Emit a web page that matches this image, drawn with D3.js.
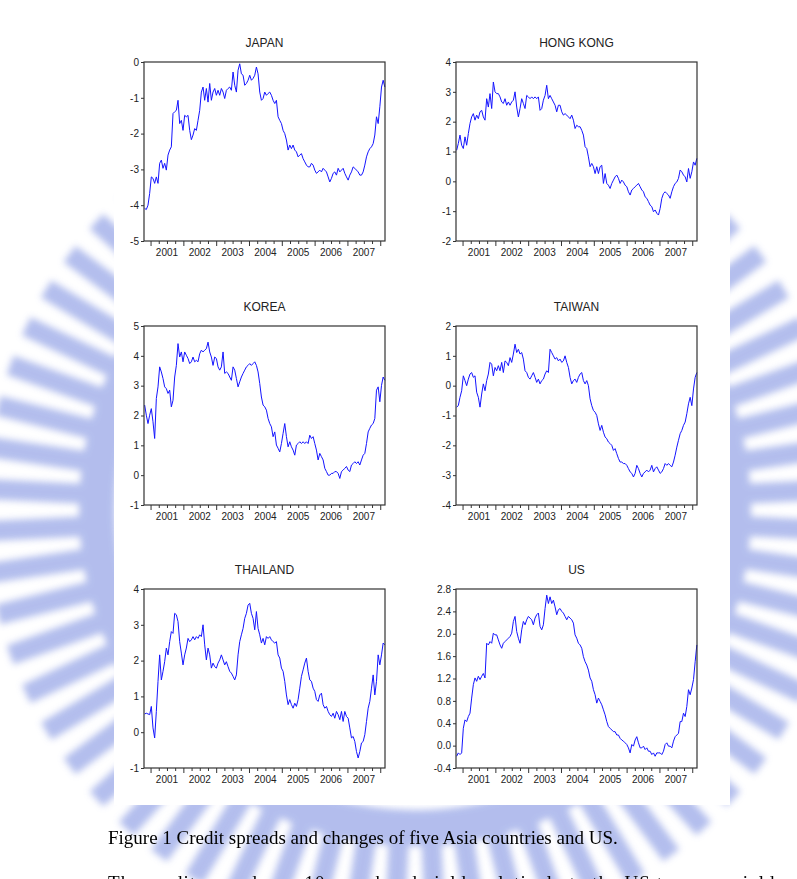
<!DOCTYPE html>
<html>
<head>
<meta charset="utf-8">
<script src="https://cdn.jsdelivr.net/npm/d3@7"></script>
<style>
  body { margin: 0; background: #fff; }
  svg { display: block; }
  .axis text { font-family: "Liberation Sans", Arial, sans-serif; font-size: 10px; fill: #222; }
  .axis line { stroke: #333; }
  .title { font-family: "Liberation Sans", Arial, sans-serif; font-size: 12px; fill: #222; }
  .caption { font-family: "Liberation Serif", "Times New Roman", serif; font-size: 19px; fill: #000; }
</style>
</head>
<body>
<svg id="fig" width="797" height="879"></svg>
<script>
// --- Data (roughly every 2.5 weeks) ---
const START = 2000.82, END = 2008.14;
const years = [2001, 2002, 2003, 2004, 2005, 2006, 2007];

const japan = [-4.09,-4.12,-4.00,-3.67,-3.21,-3.25,-3.39,-3.21,-3.39,-2.83,-2.74,-2.97,-2.83,-3.02,-2.60,-2.46,-2.37,-1.44,-1.39,-1.35,-1.07,-1.72,-1.63,-1.91,-1.49,-1.53,-1.49,-1.91,-2.17,-2.04,-1.86,-1.91,-1.63,-1.35,-0.84,-0.70,-1.07,-0.74,-1.12,-0.60,-1.07,-0.84,-0.74,-0.93,-0.79,-0.93,-0.74,-0.84,-1.02,-0.79,-0.74,-0.70,-0.79,-0.28,-0.65,-0.84,-0.23,-0.05,-0.33,-0.37,-0.65,-0.60,-0.51,-0.37,-0.51,-0.46,-0.37,-0.14,-0.33,-0.84,-1.07,-1.02,-0.84,-0.93,-0.88,-0.84,-0.93,-1.07,-1.16,-1.07,-1.53,-1.63,-1.72,-1.91,-2.00,-2.18,-2.46,-2.32,-2.42,-2.32,-2.46,-2.51,-2.65,-2.60,-2.56,-2.70,-2.79,-2.88,-2.93,-2.93,-2.83,-2.88,-3.02,-3.11,-3.07,-3.02,-3.07,-2.97,-3.02,-3.07,-3.21,-3.35,-3.25,-3.11,-3.07,-3.16,-2.97,-3.07,-3.02,-2.97,-3.11,-3.21,-3.30,-3.16,-3.07,-2.93,-2.97,-3.02,-3.07,-3.16,-3.16,-3.07,-2.88,-2.65,-2.51,-2.42,-2.37,-2.28,-2.04,-1.53,-1.72,-1.25,-0.70,-0.51,-0.70];

const hongKong = [1.04,1.27,1.55,1.21,1.10,1.49,1.21,1.60,1.94,2.16,2.27,2.05,2.22,2.10,2.33,2.38,2.16,2.05,2.77,2.49,2.94,2.44,3.33,3.00,2.94,2.94,2.83,2.66,2.61,2.77,2.55,2.66,2.55,2.66,2.72,3.00,2.49,2.16,2.44,2.77,2.61,2.44,2.88,2.83,2.77,2.83,2.77,2.83,2.77,2.83,2.38,2.44,2.72,2.88,3.22,2.77,2.88,2.77,2.66,2.55,2.33,2.55,2.55,2.33,2.22,2.27,2.22,2.16,2.10,2.22,2.05,1.77,1.88,1.83,1.83,1.71,1.55,1.16,1.10,0.82,0.49,0.60,0.49,0.26,0.49,0.26,0.49,0.54,-0.07,0.26,-0.07,-0.13,-0.24,-0.07,0.04,0.15,0.21,0.10,-0.07,0.04,-0.02,-0.13,-0.18,-0.35,-0.46,-0.29,-0.24,-0.18,-0.13,-0.07,-0.18,-0.29,-0.35,-0.52,-0.57,-0.68,-0.80,-0.85,-1.02,-0.96,-1.07,-1.13,-0.91,-0.57,-0.41,-0.35,-0.41,-0.46,-0.57,-0.35,-0.18,-0.07,-0.02,0.10,0.38,0.32,0.21,0.15,-0.02,0.43,0.10,0.32,0.65,0.54,0.77];

const korea = [2.35,2.01,1.73,2.01,2.23,1.79,1.23,2.57,2.96,3.63,3.46,3.24,2.96,2.90,2.74,2.85,2.29,2.51,3.29,3.68,4.41,3.96,4.13,3.80,4.13,4.02,3.91,3.74,3.80,3.96,3.80,3.85,3.80,4.07,4.19,4.13,4.19,4.24,4.46,4.13,3.96,3.68,3.96,3.91,3.63,3.52,3.63,4.13,3.41,3.46,3.41,3.29,3.18,3.63,3.52,3.24,2.96,3.13,3.29,3.41,3.52,3.63,3.68,3.74,3.68,3.74,3.80,3.68,3.46,3.07,2.62,2.35,2.29,2.18,1.90,1.73,1.62,1.29,1.45,1.01,0.90,0.78,1.06,1.40,1.73,1.29,0.95,1.12,0.95,0.84,0.67,1.01,1.06,1.12,1.06,1.12,1.06,1.12,1.06,1.34,1.23,1.29,1.06,0.84,0.51,0.73,0.62,0.51,0.23,0.12,0.00,0.00,0.06,0.06,0.12,0.12,0.06,-0.11,0.12,0.17,0.23,0.29,0.17,0.12,0.34,0.39,0.45,0.39,0.45,0.34,0.51,0.67,0.73,1.06,1.45,1.57,1.68,1.73,1.90,2.85,2.96,2.46,3.01,3.29,3.18];

const taiwan = [-0.72,-0.67,-0.39,-0.17,0.33,0.17,0.00,0.22,0.39,0.44,0.28,0.33,-0.22,-0.39,-0.72,-0.28,0.06,-0.17,0.17,0.39,0.78,0.72,0.33,0.61,0.50,0.67,0.50,0.78,0.44,0.83,0.78,0.67,0.94,0.78,1.06,1.39,1.11,1.22,1.06,1.11,0.89,0.50,0.44,0.28,0.22,0.33,0.44,0.28,0.11,0.22,0.06,0.17,0.22,0.39,0.50,0.44,1.22,1.11,1.00,0.89,0.94,0.83,0.89,0.78,0.83,1.00,0.78,0.61,0.28,0.06,0.17,0.22,0.11,0.28,0.39,0.44,0.17,0.06,0.17,0.00,-0.44,-0.67,-0.83,-0.89,-1.00,-1.28,-1.50,-1.33,-1.56,-1.72,-1.78,-1.89,-1.94,-2.00,-2.17,-2.11,-2.28,-2.44,-2.56,-2.56,-2.61,-2.61,-2.67,-2.78,-2.89,-2.94,-3.06,-2.94,-2.67,-2.78,-2.94,-3.06,-2.94,-2.89,-2.83,-2.89,-2.83,-2.67,-2.89,-2.78,-2.72,-2.83,-2.94,-2.89,-2.78,-2.61,-2.67,-2.61,-2.67,-2.72,-2.56,-2.33,-2.06,-1.83,-1.61,-1.50,-1.33,-1.22,-0.94,-0.61,-0.39,-0.67,-0.11,0.28,0.44];

const thailand = [0.51,0.53,0.51,0.49,0.72,0.12,-0.16,0.58,1.42,2.16,1.46,1.70,1.97,2.35,2.16,2.53,2.81,2.76,3.32,3.28,3.09,2.53,2.21,1.88,2.16,2.35,2.62,2.53,2.58,2.67,2.58,2.67,2.62,2.72,2.67,3.00,2.44,2.02,2.35,2.16,1.79,1.93,1.83,1.79,1.93,2.02,2.16,2.02,1.88,1.97,1.83,1.70,1.65,1.56,1.46,1.60,2.16,2.53,2.72,2.90,3.18,3.32,3.55,3.60,3.32,3.18,2.86,3.37,2.90,2.72,2.49,2.62,2.44,2.67,2.62,2.67,2.58,2.53,2.49,2.53,2.16,2.07,1.79,1.70,1.42,1.04,0.77,0.91,0.77,0.67,0.81,0.72,0.91,1.23,1.56,1.74,1.93,2.07,1.70,1.46,1.42,1.23,1.14,0.91,0.86,1.04,1.09,0.77,0.67,0.72,0.58,0.49,0.44,0.53,0.39,0.58,0.49,0.35,0.58,0.30,0.58,0.44,0.39,0.12,-0.16,-0.12,-0.26,-0.54,-0.72,-0.54,-0.30,-0.26,-0.07,0.30,0.67,0.86,1.23,1.60,1.04,1.42,2.16,1.88,2.16,2.49,2.44];

const us = [-0.19,-0.13,-0.16,-0.13,0.31,0.46,0.43,0.52,0.58,0.85,1.09,1.21,1.15,1.24,1.18,1.24,1.29,1.21,1.83,1.80,1.86,1.83,2.01,1.98,1.98,1.89,1.80,1.74,1.83,1.86,1.89,1.92,1.95,2.01,2.22,2.31,2.04,1.92,1.83,2.07,2.22,2.16,2.25,2.31,2.28,2.25,2.16,2.28,2.34,2.37,2.13,2.07,2.16,2.45,2.69,2.54,2.66,2.54,2.60,2.48,2.34,2.43,2.45,2.40,2.37,2.31,2.25,2.31,2.28,2.25,2.19,1.98,1.92,1.83,1.80,1.74,1.59,1.50,1.44,1.35,1.21,1.15,1.00,0.91,0.76,0.85,0.79,0.73,0.64,0.55,0.43,0.34,0.31,0.28,0.25,0.25,0.19,0.19,0.13,0.10,0.08,0.05,0.02,-0.04,-0.13,0.02,-0.01,0.10,0.16,0.05,-0.04,-0.04,-0.01,-0.07,-0.04,-0.10,-0.10,-0.16,-0.13,-0.19,-0.13,-0.13,-0.13,-0.16,-0.10,0.02,0.05,-0.01,-0.01,-0.04,0.08,0.16,0.19,0.22,0.43,0.43,0.58,0.52,0.70,1.00,0.91,1.03,1.18,1.50,1.80];

const panels = [
  { title: "JAPAN",     values: japan,    yDomain: [-5, 0],    yTicks: [-5, -4, -3, -2, -1, 0], fmt: "d" },
  { title: "HONG KONG", values: hongKong, yDomain: [-2, 4],    yTicks: [-2, -1, 0, 1, 2, 3, 4], fmt: "d" },
  { title: "KOREA",     values: korea,    yDomain: [-1, 5],    yTicks: [-1, 0, 1, 2, 3, 4, 5], fmt: "d" },
  { title: "TAIWAN",    values: taiwan,   yDomain: [-4, 2],    yTicks: [-4, -3, -2, -1, 0, 1, 2], fmt: "d" },
  { title: "THAILAND",  values: thailand, yDomain: [-1, 4],    yTicks: [-1, 0, 1, 2, 3, 4], fmt: "d" },
  { title: "US",        values: us,       yDomain: [-0.4, 2.8], yTicks: [-0.4, 0, 0.4, 0.8, 1.2, 1.6, 2.0, 2.4, 2.8], fmt: ".1f" }
];

const captionText = "Figure 1 Credit spreads and changes of five Asia countries and US.";
const captionText2 = "The credit spreads are 10-year bond yields relatively to the US treasury yields";

// --- Layout ---
const colX = [144, 456];
const rowY = [62, 326, 589];
const plotW = 241, plotH = 179;

const locale = d3.formatLocale({ decimal: ".", thousands: ",", grouping: [3], currency: ["", ""], minus: "-" });

const svg = d3.select("#fig");

// --- watermark (faint gear ring behind the figure) ---
const defs = svg.append("defs");
defs.append("filter").attr("id", "soft")
  .attr("x", "-20%").attr("y", "-20%").attr("width", "140%").attr("height", "140%")
  .append("feGaussianBlur").attr("stdDeviation", 3.5);

const wm = svg.append("g").attr("filter", "url(#soft)").attr("opacity", 0.78);
const gcx = 415, gcy = 510;
wm.append("circle").attr("cx", gcx).attr("cy", gcy).attr("r", 318)
  .attr("fill", "none").attr("stroke", "#9dabe8").attr("stroke-width", 36);
d3.range(64).forEach(k => {
  wm.append("rect")
    .attr("x", 330).attr("y", -10).attr("width", 100).attr("height", 20)
    .attr("fill", "#9dabe8")
    .attr("transform", `translate(${gcx},${gcy}) rotate(${k * 360 / 64 + 2.8})`);
});

// white page under the charts
svg.append("rect").attr("x", 114).attr("y", 0).attr("width", 616).attr("height", 805).attr("fill", "#fff");

// --- panels ---
panels.forEach((p, i) => {
  const col = i % 2, row = Math.floor(i / 2);
  const g = svg.append("g").attr("transform", `translate(${colX[col]},${rowY[row]})`);

  const x = d3.scaleLinear().domain([2000.80, 2008.145]).range([0, plotW]);
  const y = d3.scaleLinear().domain(p.yDomain).range([plotH, 0]);
  const fmt = locale.format(p.fmt);

  g.append("g").attr("class", "axis")
    .call(d3.axisLeft(y).tickValues(p.yTicks).tickFormat(fmt).tickSize(3).tickPadding(2))
    .call(a => a.select(".domain").remove());

  // major (year) and minor (quarter) ticks
  g.append("g").attr("class", "axis").attr("transform", `translate(0,${plotH})`)
    .call(d3.axisBottom(x).tickValues(d3.range(2001, 2009)).tickSize(5).tickFormat(""))
    .call(a => a.select(".domain").remove());
  g.append("g").attr("class", "axis").attr("transform", `translate(0,${plotH})`)
    .call(d3.axisBottom(x).tickValues(d3.range(2001, 2008.01, 0.25).filter(v => v % 1 !== 0)).tickSize(3).tickFormat(""))
    .call(a => a.select(".domain").remove());

  g.append("g").attr("class", "axis")
    .selectAll("text").data(years).join("text")
    .attr("x", d => x(d + 0.5)).attr("y", plotH + 15)
    .attr("text-anchor", "middle")
    .text(d => d);

  const n = p.values.length;
  const line = d3.line()
    .x((d, j) => x(START + j * (END - START) / (n - 1)))
    .y(d => y(d));

  g.append("path").datum(p.values)
    .attr("d", line)
    .attr("fill", "none")
    .attr("stroke", "#1414ff")
    .attr("stroke-width", 1)
    .attr("stroke-linejoin", "round");

  g.append("rect").attr("width", plotW).attr("height", plotH)
    .attr("fill", "none").attr("stroke", "#333").attr("stroke-width", 1.2);

  g.append("text").attr("class", "title")
    .attr("x", plotW / 2).attr("y", -15)
    .attr("text-anchor", "middle")
    .text(p.title);
});

// --- caption ---
svg.append("text").attr("class", "caption").attr("x", 108).attr("y", 844).text(captionText);
svg.append("text").attr("class", "caption").attr("x", 108).attr("y", 889)
  .attr("textLength", 675).attr("lengthAdjust", "spacing").text(captionText2);
</script>
</body>
</html>
